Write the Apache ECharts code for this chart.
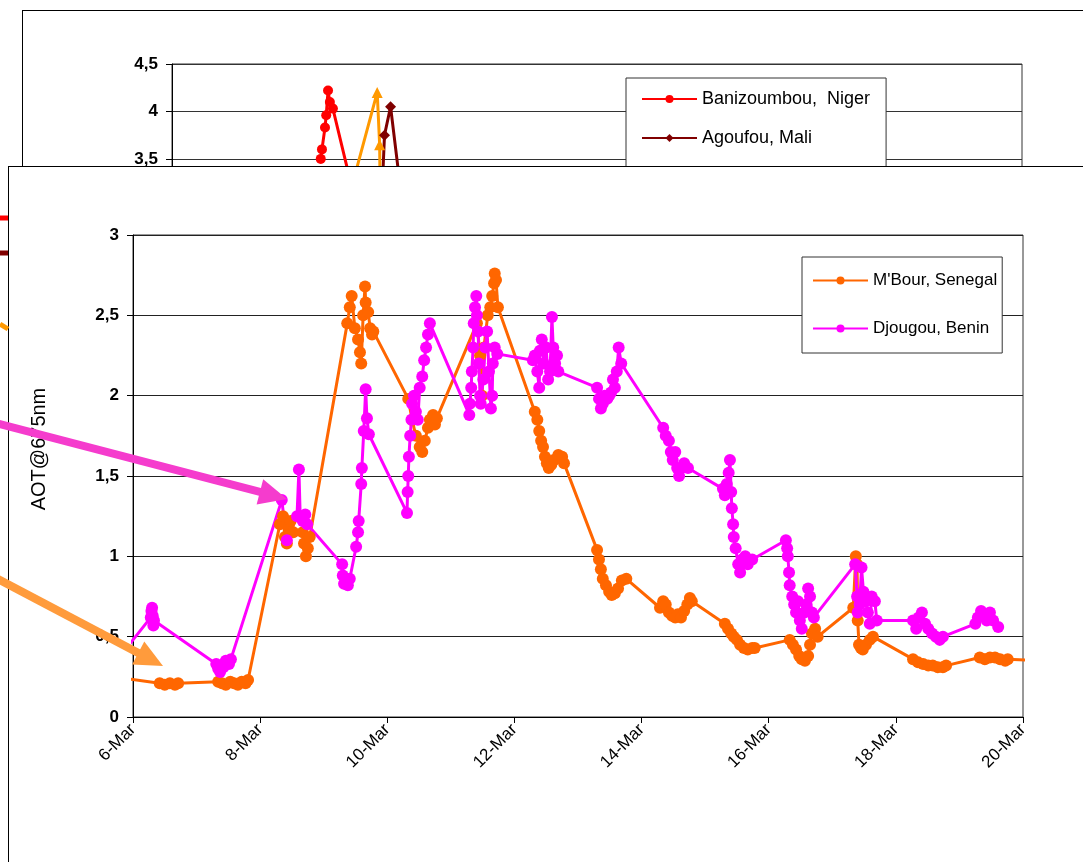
<!DOCTYPE html>
<html>
<head>
<meta charset="utf-8">
<script src="https://cdn.jsdelivr.net/npm/echarts@6/dist/echarts.min.js"></script>
<style>
  html, body { margin: 0; padding: 0; width: 1083px; height: 862px; overflow: hidden; background: #fff; }
  #back { position: absolute; left: 22px; top: 10px; width: 1200px; height: 800px; border: 1px solid #000; background: #fff; }
  #front { position: absolute; left: 8px; top: 166px; width: 1200px; height: 800px; border: 1px solid #000; background: #fff; }
  #over { position: absolute; left: 0; top: 0; width: 1083px; height: 862px; pointer-events: none; }
</style>
</head>
<body>
<div id="back"></div>
<div id="front"></div>
<div id="over"></div>
<script>
// ---------- DATA (day of March, AOT@675nm) ----------
const mbourDay = [5.7, 6.42, 6.50, 6.58, 6.66, 6.71,
  7.34, 7.40, 7.46, 7.53, 7.59, 7.65, 7.71, 7.77, 7.81,
  8.31, 8.36, 8.39, 8.42, 8.45, 8.48, 8.52, 8.67, 8.69, 8.72, 8.75, 8.78,
  9.37, 9.41, 9.44, 9.49, 9.54, 9.57, 9.59, 9.62, 9.65, 9.66, 9.70, 9.73, 9.76, 9.78,
  10.33, 10.39, 10.45, 10.51, 10.55, 10.59, 10.64, 10.67, 10.72, 10.75, 10.78,
  11.41, 11.46, 11.49, 11.52, 11.58, 11.62, 11.65, 11.68, 11.69, 11.71, 11.74,
  12.32, 12.36, 12.39, 12.42, 12.45, 12.48, 12.51, 12.54, 12.58, 12.62, 12.69, 12.75, 12.78,
  13.30, 13.33, 13.36, 13.39, 13.44, 13.49, 13.53, 13.58, 13.63, 13.69, 13.76,
  14.29, 14.34, 14.38, 14.43, 14.48, 14.53, 14.57, 14.62, 14.67, 14.72, 14.76, 14.79,
  15.31, 15.36, 15.41, 15.45, 15.50, 15.55, 15.61, 15.67, 15.74, 15.78,
  16.33, 16.38, 16.43, 16.48, 16.52, 16.57, 16.62, 16.65, 16.68, 16.73, 16.77,
  17.33, 17.37, 17.39, 17.40, 17.42, 17.45, 17.48, 17.53, 17.59, 17.64,
  18.27, 18.35, 18.43, 18.51, 18.58, 18.66, 18.74, 18.79,
  19.32, 19.40, 19.48, 19.56, 19.64, 19.72, 19.76, 20.3];
const mbourAOT = [0.25, 0.21, 0.20, 0.21, 0.20, 0.21,
  0.22, 0.21, 0.20, 0.22, 0.21, 0.20, 0.22, 0.21, 0.23,
  1.20, 1.25, 1.12, 1.08, 1.18, 1.22, 1.15, 1.15, 1.08, 1.00, 1.05, 1.12,
  2.45, 2.55, 2.62, 2.42, 2.35, 2.27, 2.20, 2.50, 2.68, 2.58, 2.52, 2.42, 2.38, 2.40,
  1.98, 1.85, 1.75, 1.68, 1.65, 1.72, 1.80, 1.85, 1.88, 1.82, 1.86,
  2.45, 2.25, 2.00, 2.30, 2.50, 2.55, 2.62, 2.70, 2.76, 2.72, 2.55,
  1.90, 1.85, 1.78, 1.72, 1.68, 1.62, 1.58, 1.55, 1.57, 1.60, 1.63, 1.62, 1.58,
  1.04, 0.98, 0.92, 0.86, 0.82, 0.78, 0.76, 0.77, 0.80, 0.85, 0.86,
  0.68, 0.72, 0.70, 0.65, 0.63, 0.62, 0.64, 0.62, 0.66, 0.70, 0.74, 0.72,
  0.58, 0.55, 0.52, 0.50, 0.48, 0.45, 0.43, 0.42, 0.43, 0.43,
  0.48, 0.45, 0.42, 0.38, 0.36, 0.35, 0.38, 0.45, 0.52, 0.55, 0.50,
  0.68, 1.00, 0.95, 0.60, 0.45, 0.43, 0.42, 0.45, 0.48, 0.50,
  0.36, 0.34, 0.33, 0.32, 0.32, 0.31, 0.31, 0.32,
  0.37, 0.36, 0.37, 0.37, 0.36, 0.35, 0.36, 0.35];

const djougouDay = [5.7, 6.28, 6.29, 6.30, 6.31, 6.32, 6.33,
  7.31, 7.34, 7.37, 7.42, 7.46, 7.51, 7.54,
  8.34, 8.42, 8.58, 8.61, 8.63, 8.67, 8.71, 8.74,
  9.29, 9.30, 9.32, 9.35, 9.38, 9.41,
  9.51, 9.54, 9.55, 9.59, 9.60, 9.63, 9.66, 9.68, 9.71,
  10.31, 10.32, 10.33, 10.34, 10.36, 10.38, 10.39, 10.42, 10.45, 10.48, 10.51, 10.55, 10.58, 10.61, 10.64, 10.67,
  11.29, 11.30, 11.32, 11.33, 11.35, 11.36, 11.38, 11.40, 11.41, 11.43, 11.44, 11.46, 11.47, 11.51, 11.54, 11.57, 11.60, 11.63, 11.65, 11.66, 11.69, 11.73,
  12.29, 12.32, 12.36, 12.39, 12.40, 12.43, 12.46, 12.50, 12.53, 12.56, 12.59, 12.61, 12.64, 12.67, 12.69,
  13.30, 13.33, 13.36, 13.39, 13.42, 13.46, 13.49, 13.52, 13.55, 13.58, 13.61, 13.64, 13.68,
  14.34, 14.38, 14.43, 14.46, 14.49, 14.53, 14.56, 14.59, 14.62, 14.67, 14.73,
  15.28, 15.31, 15.34, 15.37, 15.39, 15.41, 15.42, 15.44, 15.45, 15.48, 15.52, 15.55, 15.58, 15.63, 15.67, 15.74,
  16.27, 16.29, 16.30, 16.32, 16.33, 16.37, 16.40, 16.43, 16.46, 16.49, 16.52, 16.56, 16.59, 16.62, 16.65, 16.68, 16.71,
  17.36, 17.39, 17.40, 17.43, 17.46, 17.49, 17.53, 17.56, 17.59, 17.62, 17.67, 17.70,
  18.27, 18.32, 18.36, 18.41, 18.46, 18.51, 18.57, 18.63, 18.69, 18.74,
  19.25, 19.29, 19.34, 19.39, 19.43, 19.48, 19.53, 19.61];
const djougouAOT = [0.33, 0.62, 0.66, 0.68, 0.63, 0.57, 0.60,
  0.33, 0.30, 0.28, 0.31, 0.35, 0.33, 0.36,
  1.35, 1.10, 1.25, 1.54, 1.25, 1.22, 1.26, 1.20,
  0.95, 0.88, 0.83, 0.85, 0.82, 0.86,
  1.06, 1.15, 1.22, 1.45, 1.55, 1.78, 2.04, 1.86, 1.76,
  1.27, 1.40, 1.50, 1.62, 1.75, 1.85, 1.95, 2.00, 1.90, 1.85, 2.05, 2.12, 2.22, 2.30, 2.38, 2.45,
  1.88, 1.95, 2.05, 2.15, 2.30, 2.45, 2.55, 2.62, 2.50, 2.40, 2.20, 2.00, 1.95, 2.10, 2.30, 2.40, 2.15, 1.92, 2.00, 2.20, 2.30, 2.26,
  2.22, 2.25, 2.15, 2.05, 2.28, 2.35, 2.20, 2.30, 2.10, 2.15, 2.49, 2.30, 2.20, 2.25, 2.15,
  2.05, 1.98, 1.92, 1.95, 2.00, 1.98, 2.00, 2.02, 2.10, 2.05, 2.15, 2.30, 2.20,
  1.80, 1.75, 1.72, 1.65, 1.60, 1.65, 1.55, 1.50, 1.55, 1.58, 1.55,
  1.42, 1.38, 1.45, 1.52, 1.60, 1.40, 1.30, 1.20, 1.12, 1.05, 0.95, 0.90, 0.98, 1.00, 0.95, 0.98,
  1.10, 1.05, 1.00, 0.90, 0.82, 0.75, 0.70, 0.65, 0.72, 0.60, 0.55, 0.65, 0.70, 0.80, 0.75, 0.65, 0.62,
  0.95, 0.75, 0.65, 0.70, 0.93, 0.78, 0.72, 0.65, 0.58, 0.75, 0.72, 0.60,
  0.60, 0.55, 0.62, 0.65, 0.58, 0.55, 0.52, 0.50, 0.48, 0.50,
  0.58, 0.62, 0.66, 0.63, 0.60, 0.65, 0.60, 0.56];

// background (partly hidden) chart
const banizoumbouDay = [8.45, 8.47, 8.52, 8.54, 8.57, 8.60, 8.65, 9.00];
const banizoumbouAOT = [3.50, 3.60, 3.83, 3.96, 4.22, 4.10, 4.03, 3.10];
const agoufouDay = [9.45, 9.50, 9.60, 9.78];
const agoufouAOT = [3.00, 3.75, 4.05, 3.10];
const thirdSiteDay = [9.00, 9.38, 9.42, 9.43];
const thirdSiteAOT = [3.30, 4.20, 3.65, 3.00];

const dayMin = 6, dayMax = 20, dayStep = 2;
const frontNames = ["M'Bour, Senegal", "Djougou, Benin"];
const backNames = ["Banizoumbou,  Niger", "Agoufou, Mali"];
const yTitle = 'AOT@675nm';

const zip = (a, b) => a.map((v, i) => [v, b[i]]);
const comma = v => String(v).replace('.', ',');
const FONT = 'Liberation Sans, Arial, sans-serif';

// ---------- BACK CHART ----------
const back = echarts.init(document.getElementById('back'), null, { renderer: 'canvas' });
back.setOption({
  animation: false,
  backgroundColor: '#fff',
  grid: { left: 149, top: 53, width: 850, height: 427, show: true, borderColor: '#333', borderWidth: 1, backgroundColor: 'transparent' },
  legend: {
    data: backNames, orient: 'vertical', left: 603, top: 67,
    padding: [12, 16, 60, 15], itemGap: 21, itemWidth: 55, itemHeight: 10,
    borderColor: '#333', borderWidth: 1, backgroundColor: '#fff',
    textStyle: { fontFamily: FONT, fontSize: 18, color: '#000' }
  },
  xAxis: { type: 'value', min: dayMin, max: dayMax, interval: dayStep, splitLine: { show: false },
    axisLine: { lineStyle: { color: '#000' } }, axisLabel: { formatter: v => v + '-Mar' } },
  yAxis: { type: 'value', min: 0, max: 4.5, interval: 0.5,
    axisLine: { show: true, lineStyle: { color: '#000' } },
    axisTick: { show: true, length: 6, lineStyle: { color: '#000' } },
    splitLine: { lineStyle: { color: '#333', width: 1 } },
    axisLabel: { formatter: comma, fontFamily: FONT, fontSize: 17, fontWeight: 'bold', color: '#000', margin: 14 } },
  series: [
    { name: backNames[0], type: 'line', data: zip(banizoumbouDay, banizoumbouAOT), color: '#FF0000',
      symbol: 'circle', symbolSize: 10, showAllSymbol: true, lineStyle: { width: 3 } },
    { name: backNames[1], type: 'line', data: zip(agoufouDay, agoufouAOT), color: '#800000',
      symbol: 'diamond', symbolSize: 11, showAllSymbol: true, lineStyle: { width: 3 } },
    { name: 'site3', type: 'line', data: zip(thirdSiteDay, thirdSiteAOT), color: '#FF9900',
      symbol: 'triangle', symbolSize: 11, showAllSymbol: true, lineStyle: { width: 3 } }
  ]
});

// ---------- FRONT CHART ----------
const front = echarts.init(document.getElementById('front'), null, { renderer: 'canvas' });
front.setOption({
  animation: false,
  backgroundColor: '#fff',
  grid: { left: 124, top: 68, width: 890, height: 482, show: true, borderColor: '#333', borderWidth: 1, backgroundColor: 'transparent' },
  legend: {
    data: frontNames, orient: 'vertical', left: 793, top: 90,
    padding: [15, 5, 16, 10], itemGap: 31, itemWidth: 55, itemHeight: 10,
    borderColor: '#333', borderWidth: 1, backgroundColor: '#fff',
    textStyle: { fontFamily: FONT, fontSize: 17, color: '#000' }
  },
  xAxis: { type: 'value', min: dayMin, max: dayMax, interval: dayStep,
    splitLine: { show: false },
    axisLine: { lineStyle: { color: '#000' } },
    axisTick: { show: true, length: 6, lineStyle: { color: '#000' } },
    axisLabel: { formatter: v => v + '-Mar', rotate: 45, fontFamily: FONT, fontSize: 17, color: '#000', margin: 10 } },
  yAxis: { type: 'value', min: 0, max: 3, interval: 0.5,
    name: yTitle, nameLocation: 'middle', nameGap: 84,
    nameTextStyle: { fontFamily: FONT, fontSize: 20, color: '#000', padding: [0, 0, 0, 54] },
    axisLine: { show: true, lineStyle: { color: '#000' } },
    axisTick: { show: true, length: 6, lineStyle: { color: '#000' } },
    splitLine: { lineStyle: { color: '#222', width: 1.2 } },
    axisLabel: { formatter: comma, fontFamily: FONT, fontSize: 17, fontWeight: 'bold', color: '#000', margin: 14 } },
  series: [
    { name: frontNames[0], type: 'line', data: zip(mbourDay, mbourAOT), color: '#FF6600',
      symbol: 'circle', symbolSize: 12, showAllSymbol: true, clip: true, lineStyle: { width: 3 } },
    { name: frontNames[1], type: 'line', data: zip(djougouDay, djougouAOT), color: '#FF00FF',
      symbol: 'circle', symbolSize: 12, showAllSymbol: true, clip: true, lineStyle: { width: 3 } }
  ]
});

// ---------- OVERLAY ARROWS ----------
function arrow(x1, y1, x2, y2, color, w, hl, hw) {
  const dx = x2 - x1, dy = y2 - y1, L = Math.hypot(dx, dy);
  const ux = dx / L, uy = dy / L, px = -uy, py = ux;
  const bx = x2 - ux * hl, by = y2 - uy * hl;
  return [
    { type: 'line', shape: { x1: x1, y1: y1, x2: bx + ux * 2, y2: by + uy * 2 }, style: { stroke: color, lineWidth: w } },
    { type: 'polygon', shape: { points: [[x2, y2], [bx + px * hw / 2, by + py * hw / 2], [bx - px * hw / 2, by - py * hw / 2]] }, style: { fill: color } }
  ];
}
const over = echarts.init(document.getElementById('over'), null, { renderer: 'canvas' });
over.setOption({
  animation: false,
  graphic: [].concat(
    [
      { type: 'line', shape: { x1: 0, y1: 218, x2: 8, y2: 218 }, style: { stroke: '#FF0000', lineWidth: 5 } },
      { type: 'line', shape: { x1: 0, y1: 253, x2: 8, y2: 253 }, style: { stroke: '#800000', lineWidth: 5 } },
      { type: 'line', shape: { x1: 0, y1: 324, x2: 8, y2: 329 }, style: { stroke: '#FF9900', lineWidth: 5 } }
    ],
    arrow(-4, 423, 287, 499, '#F53CCD', 8, 28, 26),
    arrow(-4, 578, 163, 666, '#FF9B3C', 8, 28, 26)
  )
});
</script>
</body>
</html>
